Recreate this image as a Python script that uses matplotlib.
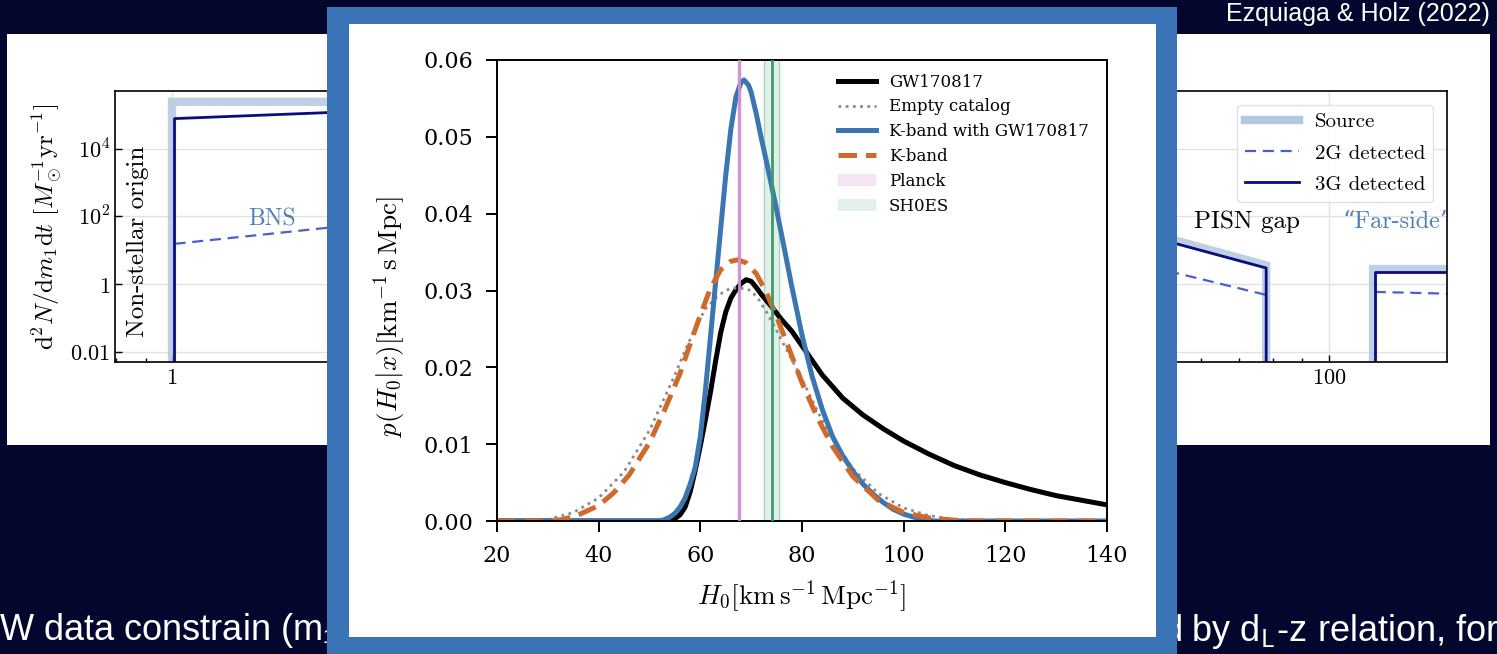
#! /usr/bin/env python3
# recreate the slide screenshot: H0 posterior on top of a mass-spectrum plot

import matplotlib.pyplot as plt
from matplotlib.patches import Rectangle
from matplotlib.lines import Line2D
from matplotlib.ticker import FixedLocator, FixedFormatter, LogLocator, NullFormatter

plt.rcParams['mathtext.fontset'] = 'cm'
plt.rcParams['font.family'] = 'DejaVu Serif'

# data: H0 posteriors (front chart)
#
h0_gw = [20, 54, 55, 56, 57, 58, 59, 60, 61, 62, 63, 64, 65, 66, 67, 68, 69, 70,
         71, 72, 74, 76, 78, 80, 84, 88, 92, 96, 100, 105, 110, 115, 120, 125,
         130, 135, 140]
p_gw = [0, 0, 0.0003, 0.0008, 0.0018, 0.0038, 0.0066, 0.0098, 0.0132, 0.0168,
        0.0208, 0.0245, 0.0272, 0.0290, 0.0301, 0.0309, 0.0314, 0.0312, 0.0304,
        0.0295, 0.0279, 0.0262, 0.0247, 0.0228, 0.0190, 0.0160, 0.0138, 0.0120,
        0.0104, 0.0087, 0.0072, 0.0060, 0.0050, 0.0041, 0.0033, 0.0027, 0.0021]

h0_empty = [20, 30, 35, 40, 45, 50, 55, 57, 59.5, 61, 63, 64.5, 66, 68, 70, 71.5,
            73, 74.5, 76, 78, 80, 82.5, 85, 90, 95, 100, 105, 110, 115, 140]
p_empty = [0, 0.0002, 0.0011, 0.0030, 0.0064, 0.0118, 0.0190, 0.0222, 0.0258,
           0.0276, 0.0290, 0.0298, 0.0303, 0.0303, 0.0300, 0.0288, 0.0272, 0.0254,
           0.0235, 0.0210, 0.0185, 0.0150, 0.0118, 0.0068, 0.0036, 0.0017, 0.0007,
           0.0002, 0, 0]

h0_kgw = [20, 52, 53, 54, 55, 56, 57, 58, 59, 60, 61, 62, 63, 64, 65, 66, 67, 68,
          68.6, 69.5, 70, 71, 72, 73, 74, 75, 76, 78, 80, 82, 84, 86, 88, 90, 92,
          94, 96, 98, 100, 102, 104, 106, 140]
p_kgw = [0, 0, 0.0002, 0.0005, 0.0010, 0.0018, 0.0030, 0.0048, 0.0070, 0.0110,
         0.0170, 0.0240, 0.0310, 0.0380, 0.0450, 0.0510, 0.0552, 0.0571, 0.0574,
         0.0567, 0.0558, 0.0530, 0.0498, 0.0468, 0.0437, 0.0405, 0.0372, 0.0305,
         0.0242, 0.0188, 0.0145, 0.0110, 0.0085, 0.0065, 0.0048, 0.0035, 0.0024,
         0.0015, 0.0009, 0.0005, 0.0002, 0, 0]

h0_k = [20, 30, 33, 36, 40, 43, 46, 50, 53, 56, 58.5, 60, 62, 64, 66, 67.4, 69,
        71, 73, 75, 77, 80, 83, 86, 90, 95, 100, 105, 110, 115, 140]
p_k = [0, 0, 0.0002, 0.0008, 0.0020, 0.0037, 0.0060, 0.0102, 0.0145, 0.0192,
       0.0240, 0.0268, 0.0303, 0.0327, 0.0338, 0.0340, 0.0336, 0.0322, 0.0297,
       0.0266, 0.0232, 0.0180, 0.0135, 0.0097, 0.0058, 0.0027, 0.0011, 0.0004,
       0.0001, 0, 0]

planck = (67.7, 0.5)
shoes = (74.0, 1.4)

h0_ticks = [20, 40, 60, 80, 100, 120, 140]
p_ticks = [0.00, 0.01, 0.02, 0.03, 0.04, 0.05, 0.06]

# data: mass spectrum (slide behind)
#
m_src = [1.0, 1.0, 1.85, 54.6, 77.9, 77.9]
r_src = [0.003, 2.45e5, 2.45e5, 19, 3.6, 0.003]
m_src_far = [119, 119, 170]
r_src_far = [0.003, 2.8, 2.8]

m_2g = [1.01, 1.85, 54.6, 77.9]
r_2g = [15.5, 46, 2.1, 0.48]
m_2g_far = [120, 170]
r_2g_far = [0.59, 0.51]

m_3g = [1.01, 1.01, 1.85, 54.6, 77.9, 77.9]
r_3g = [0.003, 7.8e4, 1.17e5, 15.5, 3.0, 0.003]
m_3g_far = [120, 120, 170]
r_3g_far = [0.003, 2.3, 2.3]

m_ticks = [1, 10, 100]
m_tick_labels = ['$1$', '$10$', '$100$']
r_ticks = [1e-2, 1, 1e2, 1e4]
r_tick_labels = ['$0.01$', '$1$', '$10^2$', '$10^4$']

# layout helpers (pixel -> figure fraction)
#
W, H = 1497, 654
def fx(px): return px / W
def fy(py): return 1 - py / H
def box(x0, y0, x1, y1): return [fx(x0), fy(y1), fx(x1) - fx(x0), fy(y0) - fy(y1)]

navy = '#03072e'
frame_blue = '#3a74b6'

fig = plt.figure(figsize=(W / 100, H / 100), dpi=100)
fig.patch.set_facecolor(navy)

# slide behind
#
fig.add_artist(Rectangle((fx(7), fy(445)), fx(1490) - fx(7), fy(34) - fy(445),
                         transform=fig.transFigure, fc='white', ec='none', zorder=0.1))

bg = fig.add_axes(box(115, 91, 1447, 362))
bg.set_zorder(0.5)
bg.set_xscale('log')
bg.set_yscale('log')
bg.set_xlim(0.797, 160)
bg.set_ylim(0.005, 5.1e5)
bg.plot(m_src, r_src, color='#b4c8e0', lw=6, alpha=0.85, solid_joinstyle='miter')
bg.plot(m_src_far, r_src_far, color='#b4c8e0', lw=6, alpha=0.85, solid_joinstyle='miter')
bg.plot(m_2g, r_2g, color='#4d5fcc', lw=1.6, ls=(0, (5, 3)))
bg.plot(m_2g_far, r_2g_far, color='#4d5fcc', lw=1.6, ls=(0, (5, 3)))
bg.plot(m_3g, r_3g, color='#0c0c7c', lw=2)
bg.plot(m_3g_far, r_3g_far, color='#0c0c7c', lw=2)
bg.xaxis.set_major_locator(FixedLocator(m_ticks))
bg.xaxis.set_major_formatter(FixedFormatter(m_tick_labels))
bg.xaxis.set_minor_locator(LogLocator(base=10, subs=range(2, 10)))
bg.xaxis.set_minor_formatter(NullFormatter())
bg.yaxis.set_major_locator(FixedLocator(r_ticks))
bg.yaxis.set_major_formatter(FixedFormatter(r_tick_labels))
bg.yaxis.set_minor_locator(FixedLocator([]))
bg.tick_params(which='both', direction='in', labelsize=16, width=1)
bg.tick_params(which='major', length=5)
bg.tick_params(which='minor', length=3)
bg.grid(which='major', color='#e2e2e2', lw=1)
bg.set_axisbelow(True)
for s in bg.spines.values():
  s.set_linewidth(1.2)
bg.set_ylabel(r'$\mathrm{d}^2N/\mathrm{d}m_1\mathrm{d}t\ [M_\odot^{-1}\mathrm{yr}^{-1}]$',
              fontsize=18, labelpad=4)

cm_font = ['cmr10', 'DejaVu Serif']
bg.text(0.873, 18, 'Non-stellar origin', rotation=90, ha='center', va='center',
        fontsize=18, family=cm_font)
bg.text(1.49, 80, 'BNS', ha='center', va='center', fontsize=17, color='#4e7fb5',
        family=cm_font)
bg.text(58.4, 69, 'PISN gap', ha='left', va='center', fontsize=18, family=cm_font)
bg.text(105.6, 69, '\u201cFar-side\u201d', ha='left', va='center', fontsize=17.5,
        color='#4e7fb5', family=cm_font, clip_on=True)
bg.legend(
  [Line2D([], [], color='#b4c8e0', lw=6),
   Line2D([], [], color='#4d5fcc', lw=1.6, ls=(0, (5, 3))),
   Line2D([], [], color='#0c0c7c', lw=2)],
  ['Source', '2G detected', '3G detected'],
  loc='upper right', prop={'family': cm_font, 'size': 15},
  handlelength=2.6, handletextpad=0.75, labelspacing=0.6, framealpha=0.9,
  edgecolor='#dddddd', borderaxespad=0.65
)

# slide texts
#
sans = ['Liberation Sans', 'DejaVu Sans']
fig.text(fx(1490), fy(14), 'Ezquiaga & Holz (2022)', ha='right', va='center',
         color='white', fontsize=18, family=sans, zorder=1)
fig.text(fx(-29), fy(641), 'GW data constrain (m\u2081$^{\\mathsf{det}}$, d$_\\mathsf{L}$)',
         ha='left', va='baseline', color='white', fontsize=26, family=sans, zorder=1)
fig.text(fx(1184), fy(641), 'fixed', ha='right', va='baseline', color='white',
         fontsize=26, family=sans, zorder=1)
fig.text(fx(1191), fy(641), 'by d$_\\mathsf{L}$-z relation, for', ha='left',
         va='baseline', color='white', fontsize=26, family=sans, zorder=1)

# front frame
#
fig.add_artist(Rectangle((fx(327), fy(660)), fx(1177) - fx(327), fy(7) - fy(660),
                         transform=fig.transFigure, fc=frame_blue, ec='none', zorder=5))
fig.add_artist(Rectangle((fx(349), fy(637)), fx(1156) - fx(349), fy(24) - fy(637),
                         transform=fig.transFigure, fc='white', ec='none', zorder=5.1))

# front chart
#
ax = fig.add_axes(box(497, 60, 1107, 521))
ax.set_zorder(6)
ax.axvspan(planck[0] - planck[1], planck[0] + planck[1], color='#dba8dd', alpha=0.3,
           lw=0, label='Planck', zorder=1)
ax.axvspan(shoes[0] - shoes[1], shoes[0] + shoes[1], color='#9fcfb5', alpha=0.3,
           lw=0, label='SH0ES', zorder=1)
for x in (shoes[0] - shoes[1], shoes[0] + shoes[1]):
  ax.axvline(x, color='#a8d6bd', lw=1, zorder=1)
ax.plot(h0_gw, p_gw, color='black', lw=3.6, label='GW170817', zorder=2)
ax.plot(h0_empty, p_empty, color='#8c8c8c', lw=2, ls=(0, (1, 1.6)),
        label='Empty catalog', zorder=2.1)
ax.plot(h0_kgw, p_kgw, color='#3c76b2', lw=3.6, label='K-band with GW170817', zorder=2.2)
ax.plot(h0_k, p_k, color='#cf6a2b', lw=3.6, ls=(0, (3.7, 1.8)), label='K-band', zorder=2.3)
ax.axvline(planck[0], color='#cf8fd0', lw=2, zorder=3)
ax.axvline(shoes[0], color='#3f9a6c', lw=2, zorder=3)

ax.set_xlim(h0_ticks[0], h0_ticks[-1])
ax.set_ylim(p_ticks[0], p_ticks[-1])
ax.set_xticks(h0_ticks)
ax.set_yticks(p_ticks)
ax.set_yticklabels([f'{v:.2f}' for v in p_ticks])
ax.tick_params(labelsize=16, length=8, width=1.4, pad=9)
for s in ax.spines.values():
  s.set_linewidth(1.4)
ax.set_xlabel(r'$H_0[\mathrm{km\,s}^{-1}\,\mathrm{Mpc}^{-1}]$', fontsize=19.5)
ax.set_ylabel(r'$p(H_0|x)[\mathrm{km}^{-1}\,\mathrm{s}\,\mathrm{Mpc}]$', fontsize=19.5)
ax.xaxis.set_label_coords(0.5, -0.125)
ax.yaxis.set_label_coords(-0.146, 0.4425)

handles, labels = ax.get_legend_handles_labels()
order = ['GW170817', 'Empty catalog', 'K-band with GW170817', 'K-band', 'Planck', 'SH0ES']
hl = dict(zip(labels, handles))
ax.legend([hl[k] for k in order], order, loc='upper left', bbox_to_anchor=(0.548, 0.985),
          borderaxespad=0, frameon=False, fontsize=12, handlelength=2.3,
          handletextpad=0.75, labelspacing=0.47)

# output
#
plt.savefig('out.png', dpi=100, facecolor=fig.get_facecolor())
